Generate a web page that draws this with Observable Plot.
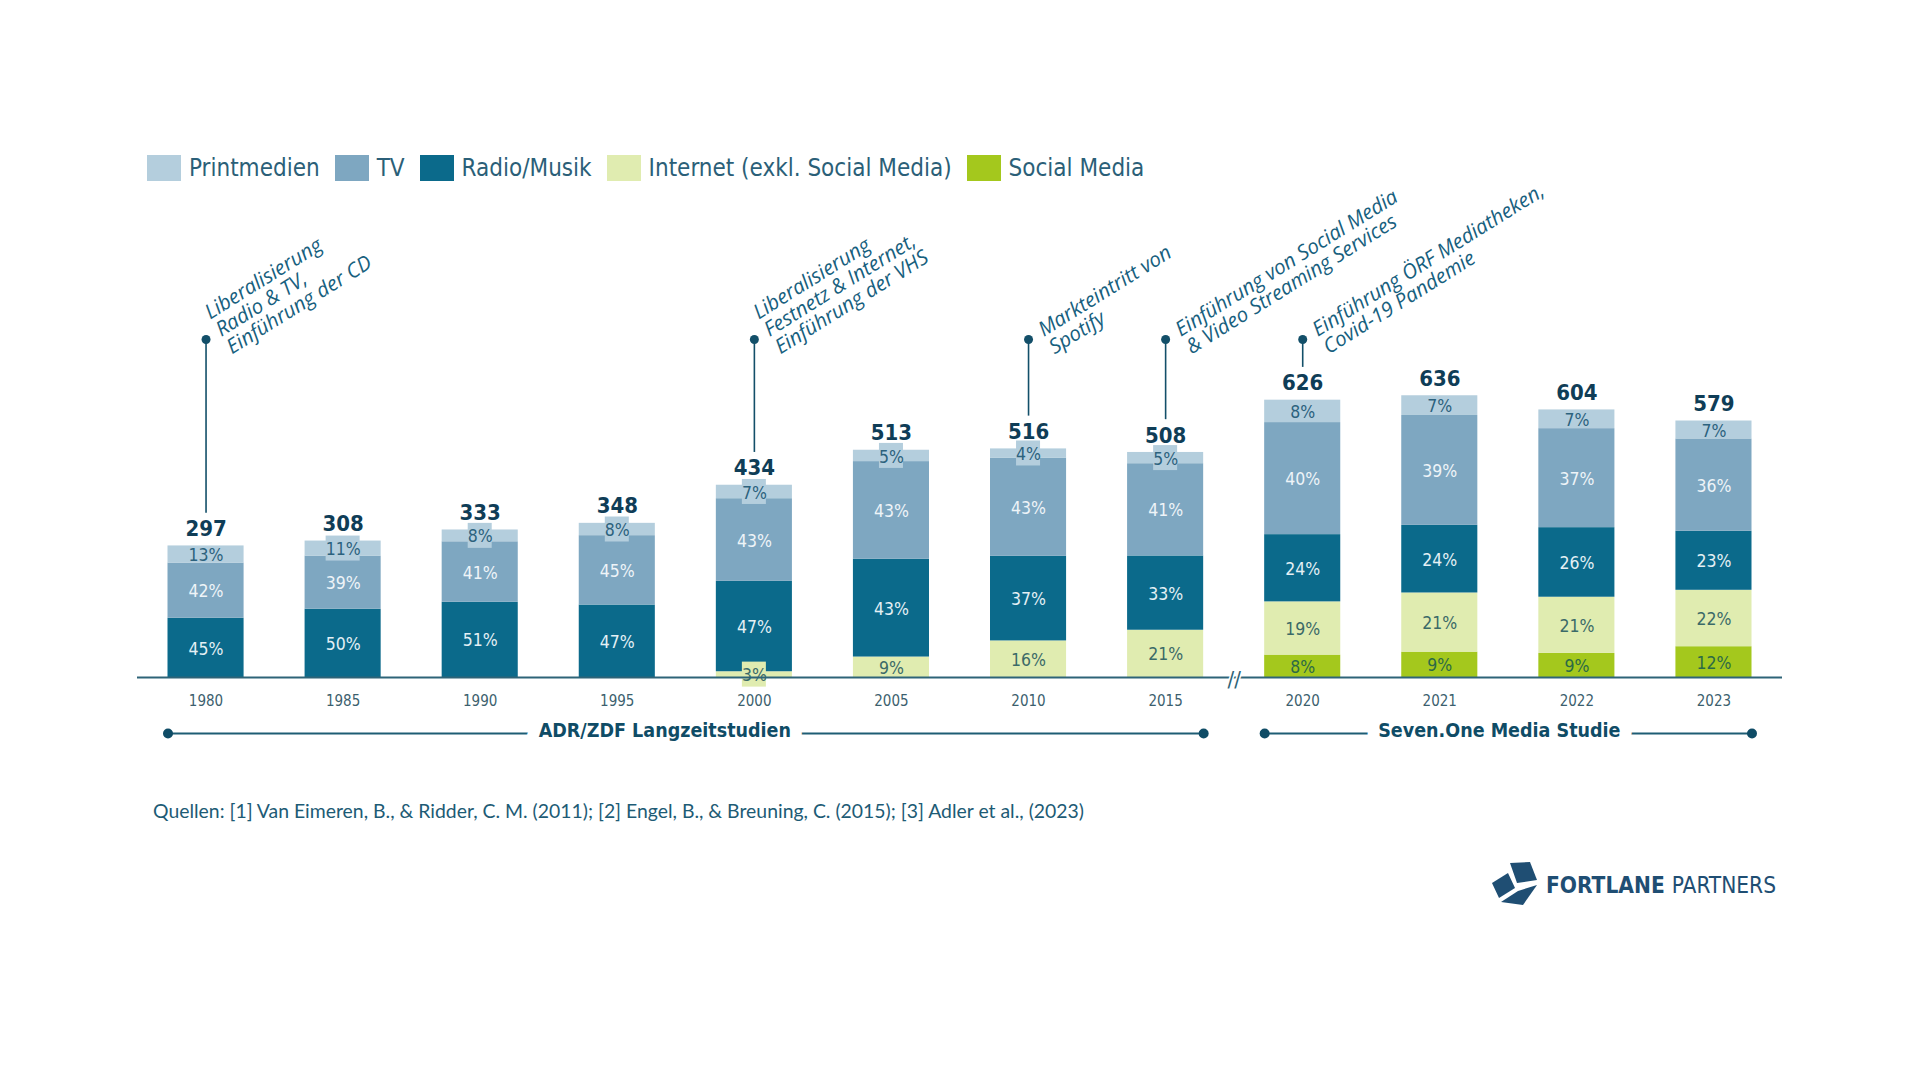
<!DOCTYPE html>
<html><head><meta charset="utf-8">
<script src="https://cdn.jsdelivr.net/npm/d3@7"></script>
<script src="https://cdn.jsdelivr.net/npm/@observablehq/plot@0.6"></script>
<style>
html,body{margin:0;padding:0;background:#fff;width:1920px;height:1080px;overflow:hidden;position:relative}
#legend{position:absolute;left:147px;top:154px;display:flex;align-items:center;font-family:"DejaVu Sans Condensed",sans-serif;font-size:24px;color:#2b5f78;white-space:nowrap}
#legend .item{display:flex;align-items:center;margin-right:15px}
#legend .sw{width:34px;height:26px;margin-right:8px;display:inline-block}
#chart{position:absolute;left:0;top:182px}
#caption{position:absolute;left:153px;top:799px;font-family:Lato,"Liberation Sans",sans-serif;font-size:19.4px;color:#1d5b75;white-space:nowrap}
#logo{position:absolute;left:1490px;top:861px;display:flex;align-items:center;font-family:"DejaVu Sans Condensed",sans-serif;font-size:22.5px;color:#1f4e73;white-space:nowrap}
</style>
</head><body>
<div id="legend"></div>
<div id="chart"></div>
<div id="caption"></div>
<div id="logo"></div>
<script>
// ---- data ----
const years = ["1980","1985","1990","1995","2000","2005","2010","2015","2020","2021","2022","2023"];
const totals = [297,308,333,348,434,513,516,508,626,636,604,579];
const printmedien = [13,11,8,8,7,5,4,5,8,7,7,7];
const tv = [42,39,41,45,43,43,43,41,40,39,37,36];
const radio = [45,50,51,47,47,43,37,33,24,24,26,23];
const internet = [0,0,0,0,3,9,16,21,19,21,21,22];
const social = [0,0,0,0,0,0,0,0,8,9,9,12];
const legendNames = ["Printmedien","TV","Radio/Musik","Internet (exkl. Social Media)","Social Media"];
const legendColors = ["#b4cedd","#7ea7c1","#0b6a8b","#e0ecb0","#a4c81d"];
const annotations = [
  {year:"1980", text:"Liberalisierung\nRadio & TV,\nEinführung der CD"},
  {year:"2000", text:"Liberalisierung\nFestnetz & Internet,\nEinführung der VHS"},
  {year:"2010", text:"Markteintritt von\nSpotify"},
  {year:"2015", text:"Einführung von Social Media\n& Video Streaming Services"},
  {year:"2020", text:"Einführung ÖRF Mediatheken,\nCovid-19 Pandemie"}
];
const studies = [
  {label:"ADR/ZDF Langzeitstudien", first:"1980", last:"2015"},
  {label:"Seven.One Media Studie", first:"2020", last:"2023"}
];
const caption = "Quellen: [1] Van Eimeren, B., & Ridder, C. M. (2011); [2] Engel, B., & Breuning, C. (2015); [3] Adler et al., (2023)";

// ---- derived ----
const shares = {"Printmedien":printmedien,"TV":tv,"Radio/Musik":radio,"Internet (exkl. Social Media)":internet,"Social Media":social};
const stackOrder = legendNames.slice().reverse(); // bottom -> top
const labelColors = {"Printmedien":"#2c627d","TV":"#eef4f8","Radio/Musik":"#e4f0f5","Internet (exkl. Social Media)":"#3b6a68","Social Media":"#2c6a46"};

const W = 1920, H = 565, mL = 137, mR = 138, mB = 70, mT = 0;
const pxPerUnit = 0.443;
const yMax = (H - mB - mT) / pxPerUnit;
const hw = 0.2775; // half bar width in band units
const step = (W - mL - mR) / years.length;

const rows = [];
years.forEach((yr, i) => {
  const sum = d3.sum(stackOrder, s => shares[s][i]);
  let cum = 0;
  stackOrder.forEach(s => {
    const pct = shares[s][i];
    if (pct > 0) {
      const v = totals[i] * pct / sum;
      rows.push({i, s, pct, y1: cum, y2: cum + v});
      cum += v;
    }
  });
});
const boxes = rows.filter(d => (d.y2 - d.y1) * pxPerUnit < 16);
const boxHalfH = 12.5 / pxPerUnit;
const boxHalfW = d => (String(d.pct).length * 5 + 7) / step;

const annIdx = d => years.indexOf(d.year);
const dotY = 763;
const breakX = years.indexOf("2020") - 0.5;

const fontNarrow = '"DejaVu Sans Condensed",sans-serif';
const studyMark = (d, dx) => Plot.text([d], {
  x: s => (years.indexOf(s.first) + years.indexOf(s.last)) / 2, y: () => 0, text: "label",
  dy: 53, dx, fontSize: 19.5, fontWeight: 700, fill: "#0f4c66", stroke: "white", strokeWidth: 24,
  strokeLinejoin: "round", paintOrder: "stroke"});

const marks = [
  Plot.rect(rows, {x1: d => d.i - hw, x2: d => d.i + hw, y1: "y1", y2: "y2", fill: "s"}),
  Plot.rect(boxes, {x1: d => d.i - boxHalfW(d), x2: d => d.i + boxHalfW(d),
    y1: d => (d.y1 + d.y2) / 2 - boxHalfH, y2: d => (d.y1 + d.y2) / 2 + boxHalfH, fill: "s"}),
  ...stackOrder.map(s => Plot.text(rows.filter(d => d.s === s), {
    x: "i", y: d => (d.y1 + d.y2) / 2, text: d => d.pct + "%",
    fill: labelColors[s], fontSize: 17.5, dy: 1
  })),
  Plot.ruleY([0], {stroke: "#2e6478", strokeWidth: 2}),
  Plot.text([breakX], {x: d => d, y: () => 0, text: () => "//", fontSize: 22, fill: "#2e6478",
    stroke: "white", strokeWidth: 3, paintOrder: "stroke", dy: 2}),
  Plot.text(years, {x: (d, i) => i, y: (d, i) => totals[i], text: (d, i) => String(totals[i]),
    dy: -17, fontSize: 22, fontWeight: 700, fill: "#0f3d57"}),
  Plot.ruleX(annotations, {x: annIdx, y1: d => totals[annIdx(d)] + 74, y2: () => dotY, stroke: "#134f69", strokeWidth: 1.6}),
  Plot.dot(annotations, {x: annIdx, y: () => dotY, r: 4.5, fill: "#134f69"}),
  Plot.text(annotations, {x: annIdx, y: () => dotY, text: "text", rotate: -32, textAnchor: "start",
    lineAnchor: "bottom", lineHeight: 1.0, fontSize: 20.5, fontStyle: "italic",
    fontFamily: '"Open Sans",sans-serif', fill: "#17607e", dx: 26, dy: 15}),
  Plot.axisX(d3.range(years.length), {tickFormat: i => years[i], tickSize: 0, tickPadding: 18,
    fontSize: 15, fill: "#3c5f6e", label: null}),
  Plot.ruleY(studies, {y: () => 0, x1: d => years.indexOf(d.first) - hw, x2: d => years.indexOf(d.last) + hw,
    dy: 56, stroke: "#1e5d74", strokeWidth: 2}),
  Plot.dot(studies.flatMap(d => [years.indexOf(d.first) - hw, years.indexOf(d.last) + hw]),
    {x: d => d, y: () => 0, dy: 56, r: 5, fill: "#0f4c66"}),
  studyMark(studies[0], -21),
  studyMark(studies[1], -9)
];

const chart = Plot.plot({
  width: W, height: H, marginLeft: mL, marginRight: mR, marginTop: mT, marginBottom: mB,
  x: {type: "linear", domain: [-0.5, years.length - 0.5], axis: null},
  y: {domain: [0, yMax], axis: null},
  color: {domain: legendNames, range: legendColors},
  style: {fontFamily: fontNarrow, overflow: "visible", background: "transparent"},
  marks
});
document.getElementById("chart").append(chart);

// legend
const leg = document.getElementById("legend");
legendNames.forEach((n, i) => {
  const it = document.createElement("span"); it.className = "item";
  const sw = document.createElement("span"); sw.className = "sw"; sw.style.background = legendColors[i];
  const tx = document.createElement("span"); tx.textContent = n;
  it.append(sw, tx); leg.append(it);
});
document.getElementById("caption").textContent = caption;
document.getElementById("logo").innerHTML =
  '<svg width="48" height="48" viewBox="0 0 48 48" style="margin-right:8px">' +
  '<path d="M20 2 L40 1 L47 19 L27 22 Z" fill="#1f4e73"/>' +
  '<path d="M2 22 L18 12 L25 27 L9 37 Z" fill="#1f4e73"/>' +
  '<path d="M11 41 L28 30 L47 24 L33 44 Z" fill="#1f4e73"/>' +
  '</svg><span style="font-weight:700">FORTLANE</span><span style="margin-left:7px">PARTNERS</span>';
</script>
</body></html>
